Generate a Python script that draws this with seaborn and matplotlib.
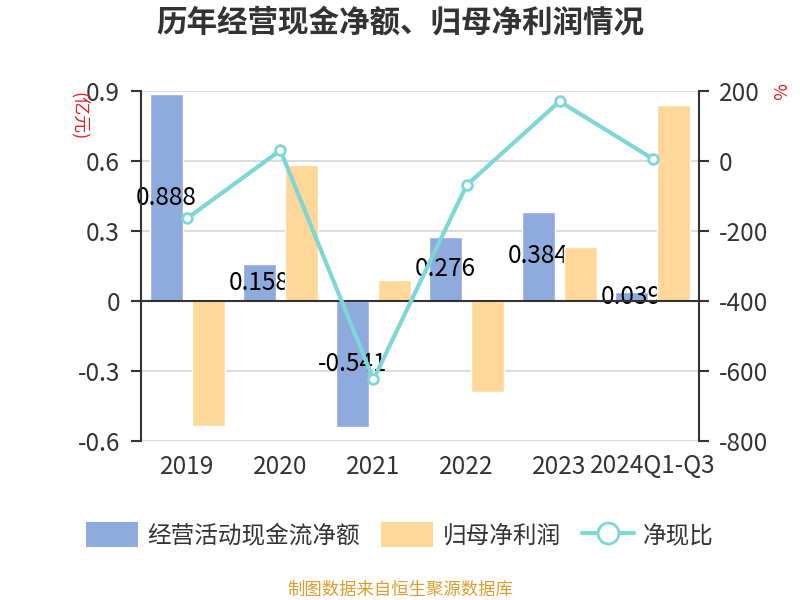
import numpy as np
import pandas as pd
import matplotlib
matplotlib.use("Agg")
import matplotlib.pyplot as plt
import seaborn as sns
from matplotlib.patches import Patch
from matplotlib.lines import Line2D

# 数据（单位：亿元 / %）
categories = ['2019', '2020', '2021', '2022', '2023', '2024Q1-Q3']
cash_flow = [0.888, 0.158, -0.541, 0.276, 0.384, 0.039]
net_profit = [-0.536, 0.585, 0.092, -0.388, 0.234, 0.842]
cash_ratio = [-163, 31, -624, -69, 171, 7]

series_names = ['经营活动现金流净额', '归母净利润', '净现比']
left_ticks = [-0.6, -0.3, 0, 0.3, 0.6, 0.9]
right_ticks = [-800, -600, -400, -200, 0, 200]

BLUE = '#8FAADC'
ORANGE = '#FFD899'
TEAL = '#7ED6D6'
DARK = '#333333'

sns.set_style('white')
plt.rcParams['font.family'] = ['Noto Sans CJK SC', 'DejaVu Sans']
plt.rcParams['axes.unicode_minus'] = False

df = pd.DataFrame({
    'year': categories * 2,
    'value': cash_flow + net_profit,
    'series': [series_names[0]] * len(categories) + [series_names[1]] * len(categories),
})

fig = plt.figure(figsize=(8, 6), dpi=100)
ax = fig.add_axes([0.176, 0.265, 0.698, 0.583])

sns.barplot(data=df, x='year', y='value', hue='series', order=categories,
            hue_order=series_names[:2], palette=[BLUE, ORANGE],
            width=0.904, gap=0.215, legend=False, ax=ax, saturation=1)

blue_bars, orange_bars = ax.containers[0], ax.containers[1]
for b in blue_bars:
    b.set_zorder(1)
for b in orange_bars:
    b.set_zorder(2)

# 数值标签放在蓝柱中间，被橙柱遮挡一部分
labels = ax.bar_label(blue_bars, fmt='%.3f', label_type='center',
                      fontsize=17.5, color='black')
for t in labels:
    t.set_zorder(1.5)

ax.set_xlim(-0.5, len(categories) - 0.5)
ax.set_ylim(-0.6, 0.9)
ax.set_yticks(left_ticks)
ax.set_yticklabels(['0' if v == 0 else f'{v:g}' for v in left_ticks])
ax.set_axisbelow(True)
ax.yaxis.grid(True, color='#DDDDDD', linewidth=1.5)
ax.set_xlabel('')
ax.set_ylabel('')

# x轴线放在0处，刻度在类别边界
ax.spines['bottom'].set_position(('data', 0))
ax.spines['bottom'].set_color(DARK)
ax.spines['bottom'].set_linewidth(1.5)
ax.spines['left'].set_color(DARK)
ax.spines['left'].set_linewidth(1.5)
ax.spines['top'].set_visible(False)
ax.spines['right'].set_visible(False)
ax.set_xticks(np.arange(len(categories) - 1) + 0.5)
ax.set_xticklabels([])
ax.tick_params(axis='x', length=6, width=1.2, color=DARK, direction='out')
ax.tick_params(axis='y', length=7, width=1.5, color=DARK, labelsize=17.5,
               labelcolor=DARK, pad=8)

sec = ax.secondary_xaxis('bottom')
sec.set_xticks(np.arange(len(categories)))
sec.set_xticklabels(categories)
sec.tick_params(length=0, labelsize=17.5, labelcolor=DARK, pad=9)
sec.spines['bottom'].set_visible(False)

# 右轴：净现比
ax2 = ax.twinx()
sns.lineplot(x=np.arange(len(categories)), y=cash_ratio, ax=ax2, color=TEAL,
             linewidth=3, marker='o', markersize=7, markerfacecolor='white',
             markeredgecolor=TEAL, markeredgewidth=2)
ax2.set_ylim(-800, 200)
ax2.set_yticks(right_ticks)
ax2.tick_params(axis='y', length=7, width=1.5, color=DARK, labelsize=17.5,
                labelcolor=DARK, pad=7)
for s in ['top', 'left', 'bottom']:
    ax2.spines[s].set_visible(False)
ax2.spines['right'].set_color(DARK)
ax2.spines['right'].set_linewidth(1.5)
ax2.set_xlim(-0.5, len(categories) - 0.5)

# 单位
fig.text(79 / 800, 1 - 116 / 600, '(亿元)', color='#E02020', fontsize=13,
         rotation=270, ha='center', va='center')
fig.text(777 / 800, 1 - 91 / 600, '%', color='#E02020', fontsize=13,
         rotation=270, ha='center', va='center')

# 标题
fig.text(0.5, 1 - 22 / 600, '历年经营现金净额、归母净利润情况', ha='center', va='center',
         fontsize=22, fontweight='black', color=DARK)

# 图例
handles = [
    Patch(facecolor=BLUE, edgecolor='none'),
    Patch(facecolor=ORANGE, edgecolor='none'),
    Line2D([0], [0], color=TEAL, linewidth=3, marker='o', markersize=15,
           markerfacecolor='white', markeredgecolor=TEAL, markeredgewidth=2),
]
fig.legend(handles, series_names, loc='center', bbox_to_anchor=(0.5, 1 - 535 / 600),
           ncol=3, frameon=False, fontsize=17, handlelength=2.2, handleheight=1.2,
           handletextpad=0.4, columnspacing=0.9, labelcolor=DARK)

fig.text(0.5, 1 - 590 / 600, '制图数据来自恒生聚源数据库', ha='center', va='center',
         fontsize=12.5, color='#D9A030')

fig.savefig('out.png', dpi=100)
